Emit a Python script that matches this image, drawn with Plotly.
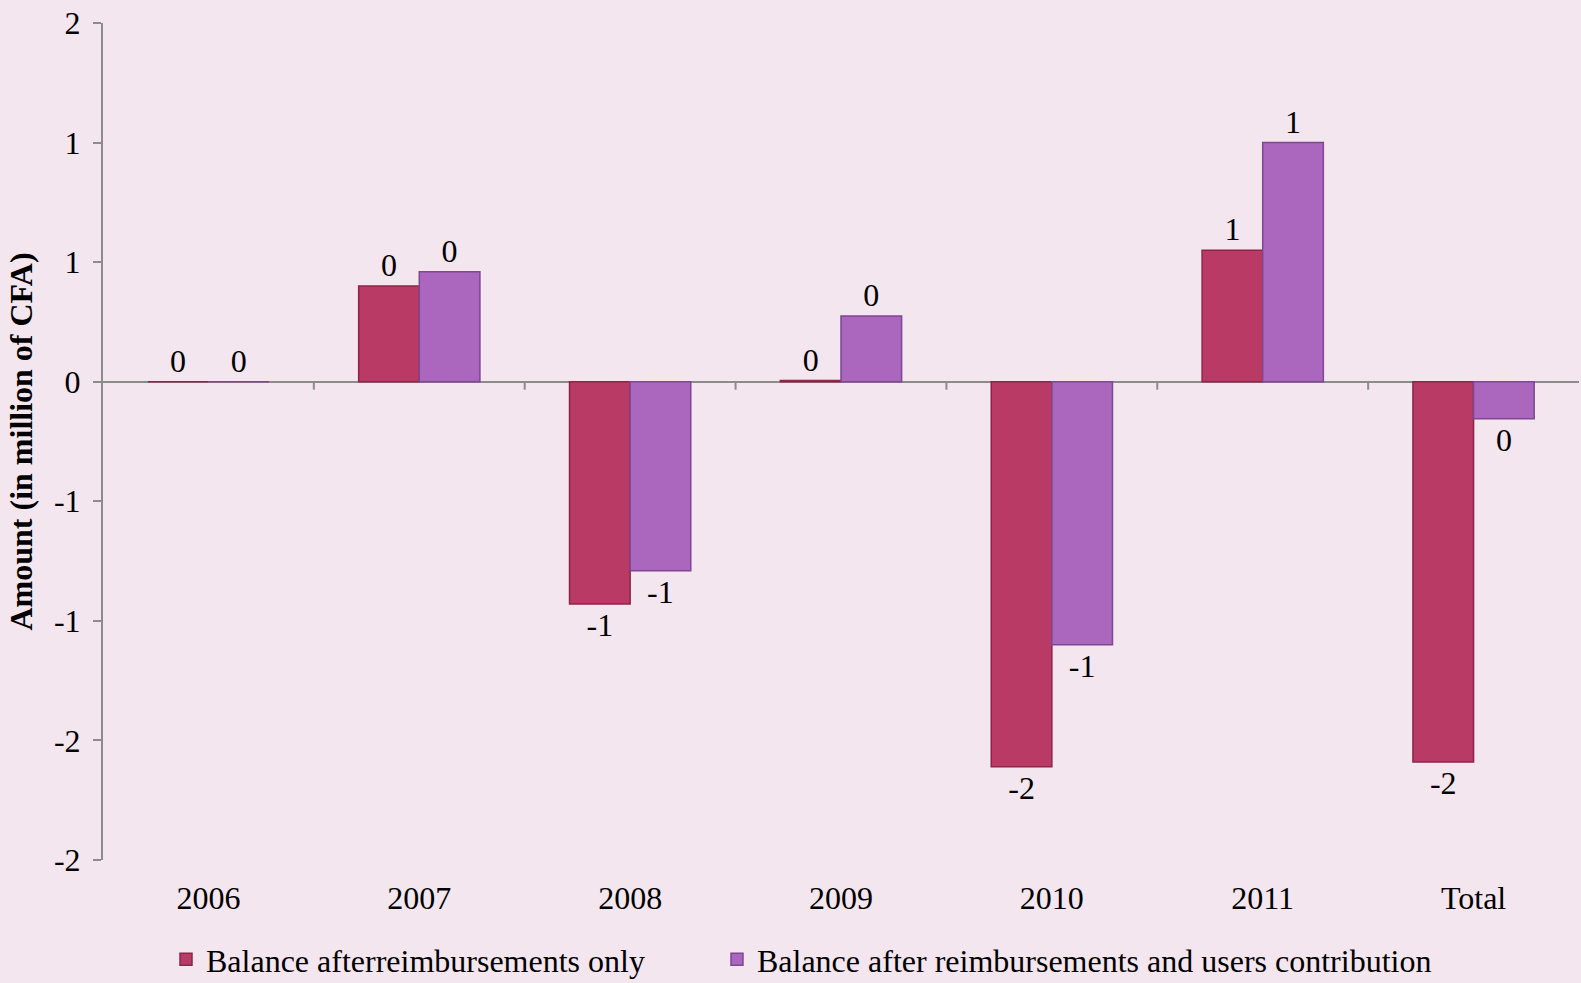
import math
import plotly.graph_objects as go

categories = ["2006", "2007", "2008", "2009", "2010", "2011", "Total"]
balance_reimb_only = [0.0, 0.40, -0.93, 0.005, -1.61, 0.55, -1.59]
balance_reimb_users = [0.0, 0.46, -0.79, 0.275, -1.10, 1.00, -0.155]
y_tickvals = [-2.0, -1.5, -1.0, -0.5, 0.0, 0.5, 1.0, 1.5]

series_names = ["Balance afterreimbursements only",
                "Balance after reimbursements and users contribution"]


def xl_round(v):
    r = math.floor(abs(v) + 0.5)
    return str(int(-r if v < 0 and r != 0 else r))


FONT = "Liberation Serif, Times New Roman, serif"
FS = 32
BG = "#F4E6EE"
AXIS = "#8C8C8C"

fig = go.Figure()
fig.add_trace(go.Bar(
    x=categories, y=balance_reimb_only, name=series_names[0], legend="legend",
    marker=dict(color="#B83A65", line=dict(color="#8E2449", width=1.5)),
    text=[xl_round(v) for v in balance_reimb_only], textposition="outside",
    textfont=dict(family=FONT, size=FS, color="black"), cliponaxis=False,
))
fig.add_trace(go.Bar(
    x=categories, y=balance_reimb_users, name=series_names[1], legend="legend2",
    marker=dict(color="#AB66BE", line=dict(color="#7E4791", width=1.5)),
    text=[xl_round(v) for v in balance_reimb_users], textposition="outside",
    textfont=dict(family=FONT, size=FS, color="black"), cliponaxis=False,
))

shapes = []
for i in range(len(categories) - 1):
    shapes.append(dict(type="line", xref="x", yref="y", x0=i + 0.5, x1=i + 0.5,
                       ysizemode="pixel", yanchor=0, y0=0, y1=-8,
                       line=dict(color=AXIS, width=2)))

legend_common = dict(orientation="h", xref="container", yref="container",
                     xanchor="left", y=0.024, yanchor="middle",
                     font=dict(family=FONT, size=FS), bgcolor="rgba(0,0,0,0)",
                     itemwidth=30)

fig.update_layout(
    width=1581, height=983,
    paper_bgcolor=BG, plot_bgcolor=BG,
    margin=dict(l=103, r=2, t=23, b=123),
    barmode="group", bargap=0.425, bargroupgap=0,
    font=dict(family=FONT, size=FS, color="black"),
    showlegend=True,
    legend=dict(x=0.105, **legend_common),
    legend2=dict(x=0.4535, **legend_common),
    shapes=shapes,
)
fig.update_xaxes(
    type="category", showgrid=False, showline=False, ticks="",
    tickfont=dict(family=FONT, size=FS), ticklabelstandoff=16,
)
fig.update_yaxes(
    range=[-2.0, 1.5], tickvals=y_tickvals,
    ticktext=[xl_round(v) for v in y_tickvals],
    showgrid=False, showline=True, linecolor=AXIS, linewidth=2,
    ticks="outside", ticklen=8, tickcolor=AXIS, tickwidth=2,
    zeroline=True, zerolinecolor=AXIS, zerolinewidth=2,
    tickfont=dict(family=FONT, size=FS), ticklabelstandoff=6,
    title=dict(text="<b>Amount (in million of CFA)</b>",
               font=dict(family=FONT, size=FS), standoff=12),
)

fig.write_html("out.html", config={"displayModeBar": False},
               post_script="document.body.style.margin='0';document.body.style.padding='0';")
